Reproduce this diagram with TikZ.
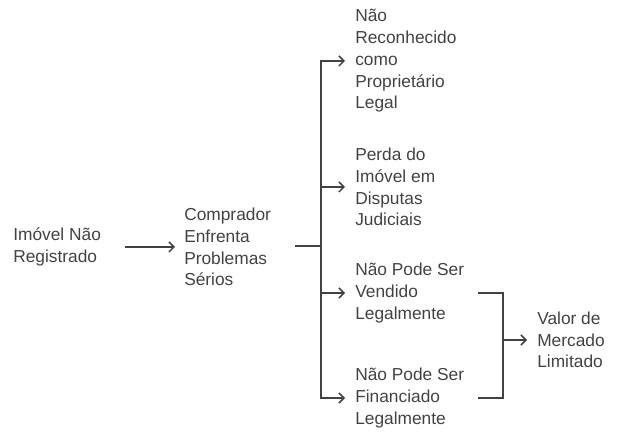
\documentclass[tikz,border=0pt]{standalone}
\usepackage{fontspec}
\setmainfont{Liberation Sans}
\usetikzlibrary{positioning}
\usetikzlibrary{arrows.meta}
\definecolor{ink}{RGB}{66,66,66}

\begin{document}
\begin{tikzpicture}[x=0.75pt,y=-0.75pt,>={Straight Barb[length=3.75pt,width=7.5pt]}]
    \tikzset{txt/.style= {align=left, anchor=west, inner sep=0pt, text=ink, font=\fontsize{13}{16.3}\selectfont},
             link/.style={draw=ink, line width=1.1pt},
             branch/.style={link, ->, shorten >=7.5pt},}
    \useasboundingbox (0,0) rectangle (632,448);

    \node [txt] (reg) at (13,247) {Imóvel Não\\Registrado};
    \node [txt] (buy) at (184,247) {Comprador\\Enfrenta\\Problemas\\Sérios};
    \coordinate (fork) at (321,246);
    \node [txt] (owner) at (355,61) {Não\\Reconhecido\\como\\Proprietário\\Legal};
    \node [txt] (loss) at (355,187) {Perda do\\Imóvel em\\Disputas\\Judiciais};
    \node [txt] (sell) at (355,293) {Não Pode Ser\\Vendido\\Legalmente};
    \node [txt] (fin) at (355,398) {Não Pode Ser\\Financiado\\Legalmente};
    \coordinate (merge) at (503,340);
    \node [txt] (val) at (537,340) {Valor de\\Mercado\\Limitado};

    \draw[link,->, shorten <=17.5pt, shorten >=6.75pt] (reg.east) -- (buy.west);
    \draw[link, shorten <=18pt] (buy.east |- fork) -- (fork);
    \draw[branch] (fork) |- (owner.west);
    \draw[branch] (fork) |- (loss.west);
    \draw[branch] (fork) |- (sell.west);
    \draw[branch] (fork) |- (fin.west);
    \draw[link, shorten <=10.5pt] (sell.east) -| (merge);
    \draw[link, shorten <=10.5pt] (fin.east) -| (merge);
    \draw[link,->, shorten >=7.5pt] (merge) -- (val.west);
\end{tikzpicture}
\end{document}
